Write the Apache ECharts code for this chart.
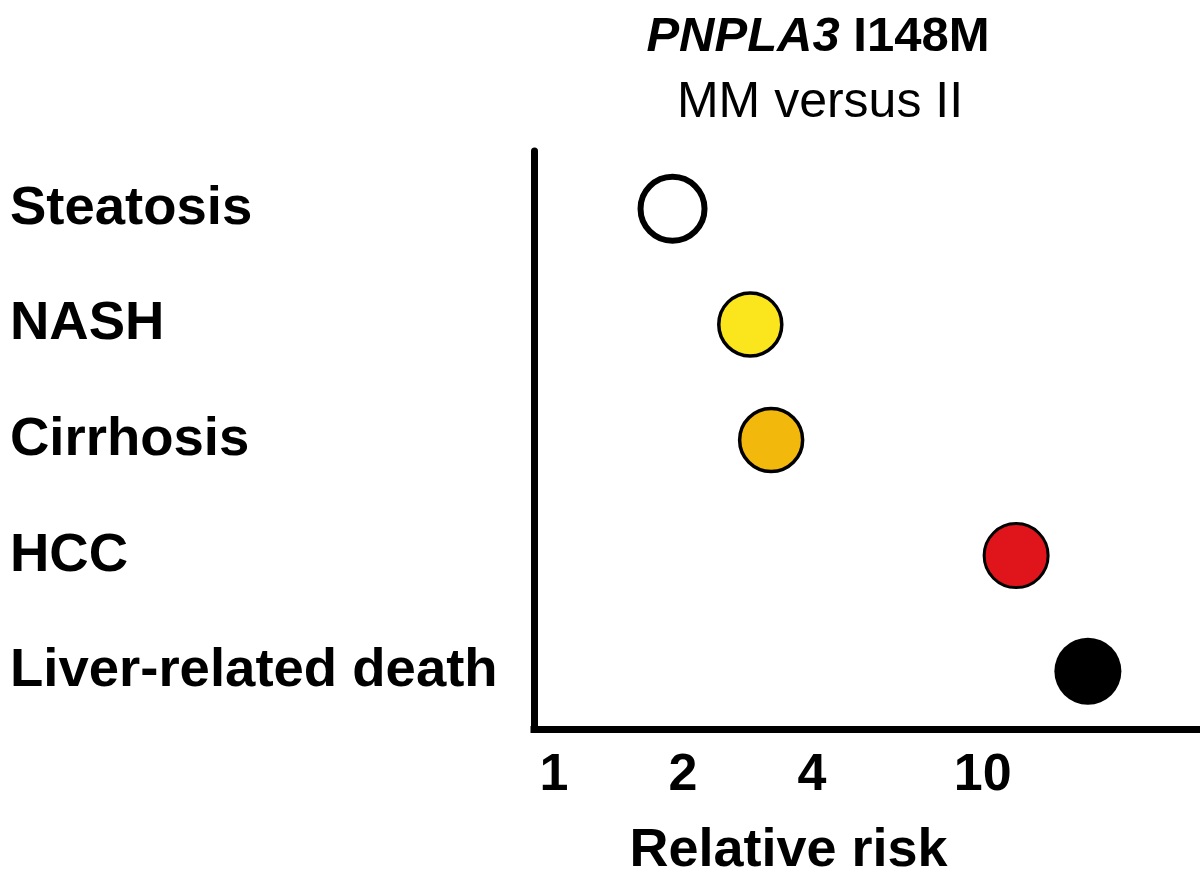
<!DOCTYPE html>
<html>
<head>
<meta charset="utf-8">
<script src="https://cdn.jsdelivr.net/npm/echarts@6/dist/echarts.min.js"></script>
<style>
html,body{margin:0;padding:0;background:#fff;}
#chart{width:1200px;height:883px;}
</style>
</head>
<body>
<div id="chart"></div>
<script>
// ---- data ----
var categories = ['Steatosis', 'NASH', 'Cirrhosis', 'HCC', 'Liver-related death'];
var relativeRisk = [1.89, 2.87, 3.21, 11.97, 17.6];
var tickValues = [1, 2, 4, 10];
var axisMin = 0.898;
var axisMax = 31.8;

// ---- styles ----
var pointColors = ['#ffffff', '#fbe51c', '#f2b80c', '#e0151b', '#000000'];
var pointBorders = [6, 3.5, 3.5, 3, 0];
var pointSizes = [64, 63, 63, 64, 67];
var FONT = '"Liberation Sans", Arial, Helvetica, sans-serif';

var chart = echarts.init(document.getElementById('chart'), null, {renderer: 'canvas'});

var seriesData = relativeRisk.map(function (v, i) {
  return {
    value: [v, categories[i]],
    symbolSize: pointSizes[i],
    itemStyle: {
      color: pointColors[i],
      borderColor: '#000',
      borderWidth: pointBorders[i],
      opacity: 1
    }
  };
});

chart.setOption({
  backgroundColor: '#ffffff',
  animation: false,
  title: [
    {
      text: '{i|PNPLA3} I148M',
      left: 818,
      top: 13,
      padding: 0,
      textAlign: 'center',
      textStyle: {
        fontFamily: FONT,
        fontSize: 49,
        fontWeight: 'bold',
        color: '#000',
        rich: {
          i: {fontFamily: FONT, fontSize: 49, fontWeight: 'bold', fontStyle: 'italic', color: '#000'}
        }
      }
    },
    {
      text: 'MM versus II',
      left: 820,
      top: 78,
      padding: 0,
      textAlign: 'center',
      textStyle: {fontFamily: FONT, fontSize: 50, fontWeight: 'normal', color: '#000'}
    }
  ],
  grid: {left: 534, right: 2, top: 151, bottom: 152.5, containLabel: false},
  xAxis: {
    type: 'log',
    logBase: 10,
    min: axisMin,
    max: axisMax,
    name: 'Relative risk',
    nameLocation: 'middle',
    nameGap: 122,
    nameTextStyle: {
      fontFamily: FONT, fontSize: 54, fontWeight: 'bold', color: '#000',
      verticalAlign: 'middle', padding: [0, 155, 0, 0]
    },
    axisLine: {show: true, onZero: false, lineStyle: {color: '#000', width: 7, cap: 'square'}},
    axisTick: {show: false},
    splitLine: {show: false},
    minorTick: {show: false},
    axisLabel: {
      show: true,
      customValues: tickValues,
      showMinLabel: true,
      showMaxLabel: true,
      margin: 47,
      verticalAlign: 'middle',
      fontFamily: FONT, fontSize: 52, fontWeight: 'bold', color: '#000',
      formatter: function (v) { return String(Math.round(v * 1000) / 1000); }
    }
  },
  yAxis: {
    type: 'category',
    data: categories,
    inverse: true,
    axisLine: {show: true, lineStyle: {color: '#000', width: 7}},
    axisTick: {show: false},
    splitLine: {show: false},
    axisLabel: {
      align: 'left',
      margin: 524,
      padding: [8, 0, 0, 0],
      fontFamily: FONT, fontSize: 54.5, fontWeight: 'bold', color: '#000'
    }
  },
  series: [{
    type: 'scatter',
    symbol: 'circle',
    data: seriesData,
    clip: false,
    z: 5
  }]
});
</script>
</body>
</html>
